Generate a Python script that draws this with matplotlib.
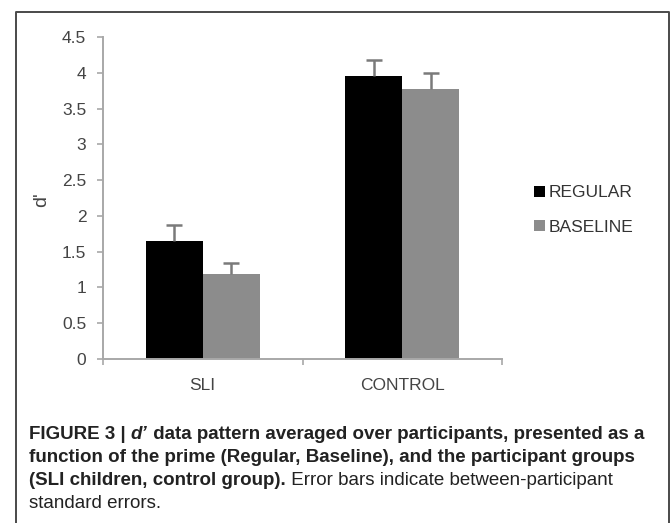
import matplotlib
matplotlib.use('Agg')
import matplotlib.pyplot as plt
import numpy as np

plt.rcParams['font.family'] = ['Liberation Sans', 'DejaVu Sans']

# data
groups = ['SLI', 'CONTROL']
regular = [1.65, 3.95]
regular_se = [0.22, 0.23]
baseline = [1.19, 3.77]
baseline_se = [0.15, 0.23]
yticks = [0, 0.5, 1, 1.5, 2, 2.5, 3, 3.5, 4, 4.5]

W, H = 670, 523
fig = plt.figure(figsize=(W / 100, H / 100), dpi=100)
fig.patch.set_facecolor('white')

def fx(px):
    return px / W

def fy(py):
    return 1 - py / H

# outer frame (open at the bottom, cut off by the image edge)
fig.add_artist(plt.Line2D([fx(15.5), fx(15.5), fx(668.5), fx(668.5)],
                          [fy(530), fy(11.5), fy(11.5), fy(530)],
                          transform=fig.transFigure, color='#4a4a4a', lw=1.4))

ax = fig.add_axes([fx(103), fy(359), fx(502) - fx(103), fy(37) - fy(359)])
x = np.array([0.5, 1.5])
bw = 0.286
ecol = '#7a7a7a'
for xs, vals, se, col, lab in [(x - bw / 2, regular, regular_se, 'black', 'REGULAR'),
                               (x + bw / 2, baseline, baseline_se, '#8c8c8c', 'BASELINE')]:
    vals = np.array(vals)
    tops = vals + np.array(se)
    ax.bar(xs, vals, bw, color=col, label=lab, zorder=2)
    # upward-only error bars with a cap on top
    ax.vlines(xs, vals, tops, color=ecol, lw=1.8, zorder=3)
    ax.plot(xs, tops, ls='none', marker='_', ms=11, mew=1.8, color=ecol, zorder=3)

ax.set_xlim(0, 2)
ax.set_ylim(0, 4.5)
ax.set_yticks(yticks)
ax.set_yticklabels([f'{v:g}' for v in yticks])
ax.set_xticks([0, 1, 2])
ax.set_xticklabels([])
ax.set_xticks(x, minor=True)
ax.set_xticklabels(groups, minor=True)
ax.tick_params(axis='x', which='minor', length=0, pad=14, labelsize=12.5, labelcolor='#444444')
ax.tick_params(axis='x', which='major', length=4, width=1.2, color='#a8a8a8')
ax.tick_params(axis='y', length=4, width=1.2, color='#a8a8a8', labelsize=12.5,
               labelcolor='#444444', pad=8)
for side in ['top', 'right']:
    ax.spines[side].set_visible(False)
for side in ['left', 'bottom']:
    ax.spines[side].set_color('#a8a8a8')
    ax.spines[side].set_linewidth(1.4)

fig.text(fx(42), fy(200), "d'", rotation=90, fontsize=14, color='#444444',
         ha='center', va='center')

ax.legend(loc='center left', bbox_to_anchor=(fx(518), fy(210)),
          bbox_transform=fig.transFigure, frameon=False, fontsize=12.5,
          handlelength=0.65, handleheight=0.65, handletextpad=0.2,
          labelspacing=1.1, labelcolor='#333333')

# caption, with mixed bold / italic / regular runs
renderer = fig.canvas.get_renderer()

def runs(x0, y0, parts):
    xpos = x0
    for txt, weight, style in parts:
        t = fig.text(xpos, y0, txt, fontsize=13.5, fontweight=weight, fontstyle=style,
                     color='#222222', ha='left', va='baseline')
        bb = t.get_window_extent(renderer)
        xpos += bb.width / W

cx = fx(29)
runs(cx, fy(439), [('FIGURE 3 | ', 'bold', 'normal'), ('d\u2019', 'bold', 'italic'),
                   (' data pattern averaged over participants, presented as a', 'bold', 'normal')])
runs(cx, fy(462), [('function of the prime (Regular, Baseline), and the participant groups', 'bold', 'normal')])
runs(cx, fy(485), [('(SLI children, control group).', 'bold', 'normal'),
                   (' Error bars indicate between-participant', 'normal', 'normal')])
runs(cx, fy(508), [('standard errors.', 'normal', 'normal')])

fig.savefig('out.png', dpi=100, facecolor='white')
